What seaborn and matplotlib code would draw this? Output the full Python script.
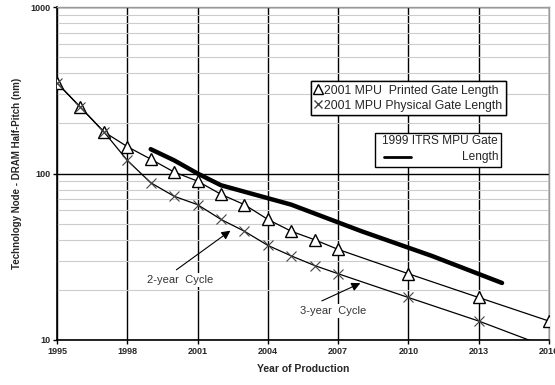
import matplotlib
matplotlib.use("Agg")
import matplotlib.pyplot as plt
import seaborn as sns
import pandas as pd
from matplotlib.lines import Line2D
from matplotlib.patches import Rectangle

years_2001 = [1995, 1996, 1997, 1998, 1999, 2000, 2001, 2002, 2003, 2004, 2005, 2006, 2007, 2010, 2013, 2016]
printed_gate = [350, 250, 178, 145, 122, 102, 90, 75, 65, 53, 45, 40, 35, 25, 18, 13]
physical_gate = [350, 250, 178, 120, 88, 73, 65, 53, 45, 37, 32, 28, 25, 18, 13, 9]
years_1999 = [1999, 2000, 2001, 2002, 2005, 2008, 2011, 2014]
itrs1999_gate = [140, 120, 100, 85, 65, 45, 32, 22]
x_ticks = [1995, 1998, 2001, 2004, 2007, 2010, 2013, 2016]
y_ticks = [10, 100, 1000]

sns.set_theme(style="white")
plt.rcParams['font.family'] = ['Liberation Sans', 'DejaVu Sans']

df_p = pd.DataFrame({"year": years_2001, "nm": printed_gate})
df_q = pd.DataFrame({"year": years_2001, "nm": physical_gate})
df_i = pd.DataFrame({"year": years_1999, "nm": itrs1999_gate})

fig = plt.figure(figsize=(5.55, 3.85), dpi=100)
ax = fig.add_axes([0.1027, 0.1169, 0.8863, 0.8649])
ax.set_yscale("log")
ax.set_xlim(1995, 2016)
ax.set_ylim(10, 1000)

ax.set_xticks(x_ticks)
ax.set_yticks(y_ticks)
ax.set_yticklabels([str(v) for v in y_ticks])
ax.yaxis.set_minor_locator(matplotlib.ticker.LogLocator(base=10, subs=range(2, 10)))
ax.yaxis.set_minor_formatter(matplotlib.ticker.NullFormatter())
ax.grid(True, which="major", axis="both", color="black", linewidth=1.0, zorder=0)
ax.grid(True, which="minor", axis="y", color="#cccccc", linewidth=0.8, zorder=0)
ax.set_axisbelow(True)

sns.lineplot(data=df_i, x="year", y="nm", ax=ax, color="black", linewidth=3.2, zorder=3)
sns.lineplot(data=df_p, x="year", y="nm", ax=ax, color="black", linewidth=0.9,
             marker="^", markersize=8, markerfacecolor="white", markeredgecolor="black",
             markeredgewidth=1.0, zorder=4)
sns.lineplot(data=df_q, x="year", y="nm", ax=ax, color="black", linewidth=0.9,
             marker="x", markersize=7, markeredgecolor="#444444", markeredgewidth=0.8, zorder=4)

for s in ["left", "bottom"]:
    ax.spines[s].set_color("black")
    ax.spines[s].set_linewidth(1.2)
for s in ["top", "right"]:
    ax.spines[s].set_color("#999999")
    ax.spines[s].set_linewidth(1.0)

ax.tick_params(axis="both", which="major", length=3, width=1, color="black", labelsize=6.5, pad=2)
ax.tick_params(axis="both", which="minor", length=0)
for lab in ax.get_xticklabels() + ax.get_yticklabels():
    lab.set_fontweight("bold")
ax.xaxis.set_tick_params(bottom=True)
ax.yaxis.set_tick_params(left=True)

ax.set_xlabel("Year of Production", fontsize=7.5, fontweight="bold", labelpad=6)
ax.set_ylabel("Technology Node - DRAM Half-Pitch (nm)", fontsize=7, fontweight="bold", labelpad=6)

# legend 1
h1 = Line2D([], [], linestyle="none", marker="^", markersize=7, markerfacecolor="white",
            markeredgecolor="black")
h2 = Line2D([], [], linestyle="none", marker="x", markersize=6, markeredgecolor="#444444")
leg = ax.legend([h1, h2], ["2001 MPU  Printed Gate Length", "2001 MPU Physical Gate Length"],
                loc="upper left", bbox_to_anchor=(0.516, 0.778), fontsize=8.8,
                frameon=True, fancybox=False, edgecolor="black", framealpha=1,
                handlelength=0.6, handletextpad=0.2, borderpad=0.3, labelspacing=0.25,
                borderaxespad=0)
leg.get_frame().set_linewidth(1.0)
ax.add_artist(leg)

# legend 2 (manual box)
tr = ax.transAxes
box = Rectangle((0.646, 0.52), 0.256, 0.102, transform=tr, facecolor="white",
                edgecolor="black", linewidth=1.0, zorder=6)
ax.add_patch(box)
ax.text(0.897, 0.598, "1999 ITRS MPU Gate", transform=tr, ha="right", va="center",
        fontsize=8.6, zorder=7)
ax.text(0.897, 0.550, "Length", transform=tr, ha="right", va="center", fontsize=8.6, zorder=7)
ax.add_line(Line2D([0.665, 0.72], [0.55, 0.55], transform=tr, color="black",
                   linewidth=2.0, zorder=7))

# annotations
ax.annotate("", xy=(2002.5, 46.4), xytext=(2000.0, 25.8),
            arrowprops=dict(arrowstyle="-|>", color="black", lw=0.8, mutation_scale=13), zorder=5)
ax.text(2000.25, 23.0, "2-year  Cycle", fontsize=8, ha="center", va="center", color="#333333",
        bbox=dict(facecolor="white", edgecolor="none", pad=1.5), zorder=6)
ax.annotate("", xy=(2008.06, 22.3), xytext=(2006.2, 16.9),
            arrowprops=dict(arrowstyle="-|>", color="black", lw=0.8, mutation_scale=13), zorder=5)
ax.text(2006.8, 14.9, "3-year  Cycle", fontsize=8, ha="center", va="center", color="#333333",
        bbox=dict(facecolor="white", edgecolor="none", pad=1.5), zorder=6)

fig.savefig("out.png", dpi=100)
